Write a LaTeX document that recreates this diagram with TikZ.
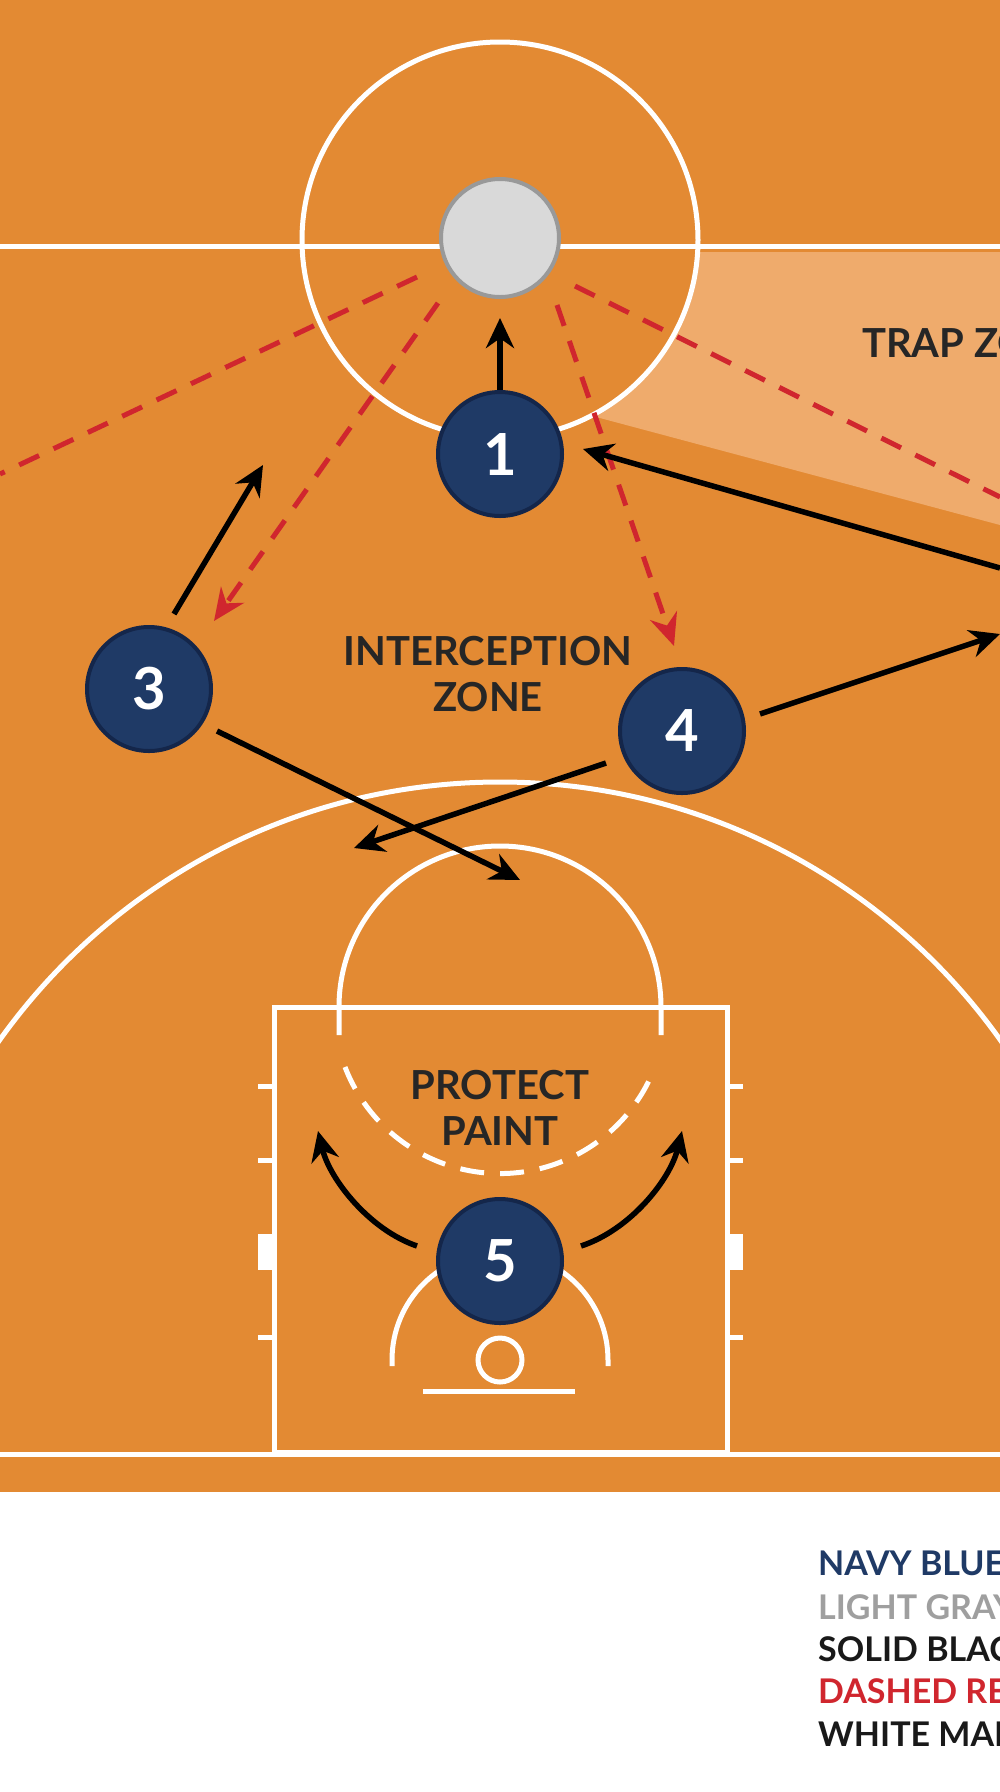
\documentclass[tikz,border=0pt]{standalone}
\usepackage{fontspec}
\setmainfont{Lato}
\usetikzlibrary{arrows.meta}
\definecolor{court}{HTML}{E38A33}
\definecolor{trap}{HTML}{EFAB6C}
\definecolor{navy}{HTML}{1F3A66}
\definecolor{navyb}{HTML}{14264A}
\definecolor{dred}{HTML}{D0262E}
\definecolor{ballg}{HTML}{D9D9D9}
\tikzset{
 line/.style={white,line width=5pt},
 player/.style={circle,fill=navy,draw=navyb,line width=4pt,minimum size=124pt,inner sep=0pt,text=white,font=\fontsize{58}{58}\selectfont\bfseries},
 move/.style={black,line width=5.5pt,-{Stealth[length=30pt,width=28pt]}},
 pass/.style={dred,line width=5pt,dash pattern=on 22pt off 16pt,-{Stealth[length=32pt,width=28pt]}},
 passn/.style={dred,line width=5pt,dash pattern=on 22pt off 16pt},
 lbl/.style={font=\fontsize{40}{46}\selectfont\bfseries,text=black!85,align=center},
 leg/.style={anchor=west,font=\fontsize{34}{34}\selectfont\bfseries,inner sep=0pt}
}
\begin{document}
\begin{tikzpicture}[x=1pt,y=-1pt]
\useasboundingbox (0,0) rectangle (1000,1792);
\fill[white] (0,0) rectangle (1000,1792);
\fill[court] (0,0) rectangle (1000,1492);
\begin{scope}
\clip (0,0) rectangle (1000,1492);
% trap zone
\fill[trap] (600,252) -- (1000,252) -- (1000,525) -- (570,410) -- cycle;
\fill[court] (500,240) circle (198);
% lines
\draw[line] (0,246) -- (1000,246);
\draw[line] (500,240) circle (198);
\draw[line] (500,1396) circle (614);
\fill[court] (274,1007) rectangle (727,1452);
\draw[line] (274,1007) rectangle (727,1452);
\draw[line] (0,1454) -- (1000,1454);
\draw[line] (339,1035) -- (339,1007) arc[start angle=180,end angle=360,radius=161] -- (661,1035);
\draw[line,dash pattern=on 24pt off 16pt] (500,1007) ++(-155,60) arc[start angle=159,end angle=21,radius=166];
\foreach \y in {1086,1160,1337}{
 \draw[line] (258,\y) -- (274,\y); \draw[line] (727,\y) -- (743,\y);}
\fill[white] (258,1234) rectangle (274,1270);
\fill[white] (727,1234) rectangle (743,1270);
\draw[line] (392,1366) -- (392,1360) arc[start angle=180,end angle=360,radius=108] -- (608,1366);
\draw[line] (500,1360) circle (22);
\draw[line] (423,1391) -- (575,1391);
\end{scope}
% ball
\node[circle,fill=ballg,draw=gray!80,line width=4pt,minimum size=118pt,inner sep=0pt] (ball) at (500,238) {};
% players
\node[player] (p1) at (500,454) {1};
\node[player] (p3) at (149,689) {3};
\node[player] (p4) at (682,731) {4};
\node[player] (p5) at (500,1261) {5};
% coordinates
\coordinate (a1e) at (500,318);
\coordinate (rin) at (1000,568);
\coordinate (r1) at (583,449);
\coordinate (a3s) at (174,614); \coordinate (a3e) at (263,465);
\coordinate (b3s) at (217,731); \coordinate (b3e) at (520,880);
\coordinate (a4s) at (606,763); \coordinate (a4e) at (354,848);
\coordinate (b4s) at (760,714); \coordinate (b4e) at (1000,634);
\coordinate (c5s) at (417,1246); \coordinate (c5e) at (318,1131);
\coordinate (d5s) at (581,1246); \coordinate (d5e) at (682,1131);
\coordinate (q1s) at (417,277); \coordinate (q1e) at (0,474);
\coordinate (q2s) at (438,303); \coordinate (q2e) at (214,621);
\coordinate (q3s) at (557,305); \coordinate (q3e) at (674,646);
\coordinate (q4s) at (575,286); \coordinate (q4e) at (1000,497);
% red passes
\draw[passn] (q1s) -- (q1e);
\draw[pass] (q2s) -- (q2e);
\draw[pass] (q3s) -- (q3e);
\draw[passn] (q4s) -- (q4e);
% black moves
\draw[move] (p1.north) -- (a1e);
\draw[move] (rin) -- (r1);
\draw[move] (a3s) -- (a3e);
\draw[move] (b3s) -- (b3e);
\draw[move] (a4s) -- (a4e);
\draw[move] (b4s) -- (b4e);
\draw[move] (c5s) .. controls (370,1230) and (330,1180) .. (c5e);
\draw[move] (d5s) .. controls (630,1230) and (670,1180) .. (d5e);
% labels
\node[lbl] (iz) at (488,674) {INTERCEPTION\\ZONE};
\node[lbl,anchor=west,inner sep=0pt] (tz) at (862,343) {TRAP ZONE};
\node[lbl] (pp) at (500,1108) {PROTECT\\PAINT};
% legend
\node[leg,text=navy] (l1) at (818,1563) {NAVY BLUE};
\node[leg,text=gray!75] (l2) at (818,1607) {LIGHT GRAY};
\node[leg,text=black!90] (l3) at (818,1649) {SOLID BLACK};
\node[leg,text=dred] (l4) at (818,1691) {DASHED RED};
\node[leg,text=black!90] (l5) at (818,1734) {WHITE MARKINGS};
\end{tikzpicture}
\end{document}
